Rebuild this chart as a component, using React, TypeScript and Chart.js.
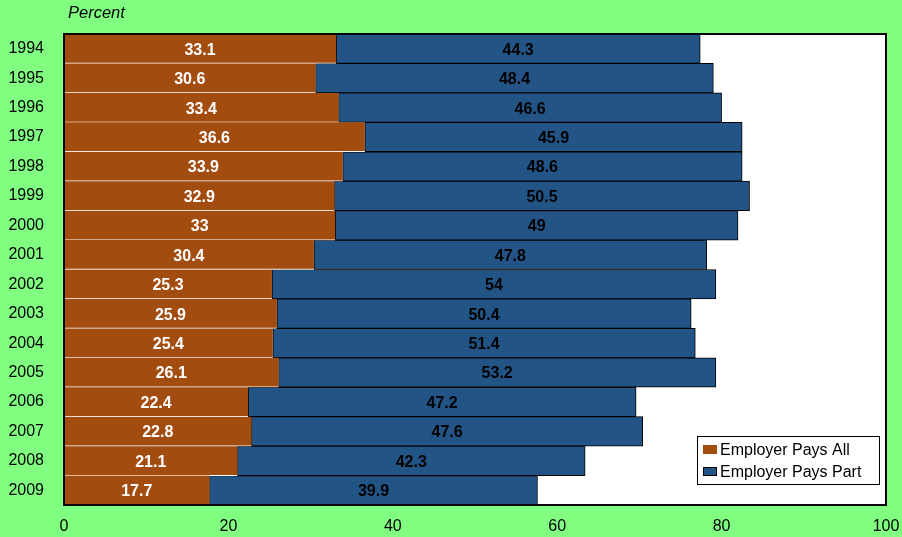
import React, { useEffect, useRef } from "react";
import { Chart, registerables } from "chart.js";

Chart.register(...registerables);

const years = ["1994","1995","1996","1997","1998","1999","2000","2001","2002","2003","2004","2005","2006","2007","2008","2009"];
const paysAll = [33.1,30.6,33.4,36.6,33.9,32.9,33,30.4,25.3,25.9,25.4,26.1,22.4,22.8,21.1,17.7];
const paysPart = [44.3,48.4,46.6,45.9,48.6,50.5,49,47.8,54,50.4,51.4,53.2,47.2,47.6,42.3,39.9];
const seriesNames = ["Employer Pays All", "Employer Pays Part"];
const xTicks = [0, 20, 40, 60, 80, 100];

const BG = "#80FF80";
const BROWN = "#A34C10";
const BLUE = "#235486";
const FONT = "Liberation Sans, Arial, sans-serif";

export default function App() {
  const ref = useRef<HTMLCanvasElement | null>(null);
  useEffect(() => {
    document.body.style.margin = "0";
    const canvas = ref.current!;
    const bgPlugin = {
      id: "bgp",
      beforeDraw(chart: any) {
        const { ctx, chartArea: a } = chart;
        ctx.save();
        ctx.fillStyle = BG;
        ctx.fillRect(0, 0, chart.width, chart.height);
        ctx.fillStyle = "#FFFFFF";
        ctx.fillRect(a.left, a.top, a.right - a.left, a.bottom - a.top);
        ctx.restore();
      },
      afterDatasetsDraw(chart: any) {
        const { ctx, chartArea: a } = chart;
        ctx.save();
        ctx.font = `bold 16px ${FONT}`;
        ctx.textAlign = "center";
        ctx.textBaseline = "middle";
        chart.data.datasets.forEach((ds: any, di: number) => {
          const meta = chart.getDatasetMeta(di);
          meta.data.forEach((bar: any, i: number) => {
            const p = bar.getProps(["x", "y", "base"], true);
            const cx = (p.x + p.base) / 2;
            ctx.fillStyle = di === 0 ? "#FFFFFF" : "#000000";
            ctx.fillText(String(ds.data[i]), cx, p.y + 1.5);
          });
        });
        // frame
        ctx.strokeStyle = "#000";
        ctx.lineWidth = 2;
        ctx.strokeRect(a.left, a.top, a.right - a.left, a.bottom - a.top);
        // title
        ctx.font = `italic 16.5px ${FONT}`;
        ctx.textAlign = "left";
        ctx.fillStyle = "#000";
        ctx.fillText("Percent", 68, 13);
        // legend
        const lx = 697, ly = 436, lw = 182, lh = 48;
        ctx.fillStyle = "#FFF";
        ctx.fillRect(lx, ly, lw, lh);
        ctx.strokeStyle = "#000";
        ctx.lineWidth = 1;
        ctx.strokeRect(lx + 0.5, ly + 0.5, lw, lh);
        const rows = [450, 472];
        const cols = [BROWN, BLUE];
        rows.forEach((ry, k) => {
          ctx.fillStyle = cols[k];
          ctx.fillRect(703, ry - 5, 14, 9);
          if (k === 1) {
            ctx.strokeStyle = "#000";
            ctx.strokeRect(703.5, ry - 4.5, 13, 8);
          }
          ctx.fillStyle = "#000";
          ctx.font = `16px ${FONT}`;
          ctx.fillText(seriesNames[k], 720, ry + 1);
        });
        ctx.restore();
      },
    };
    const chart = new Chart(canvas, {
      type: "bar",
      data: {
        labels: years,
        datasets: [
          {
            label: seriesNames[0],
            data: paysAll,
            backgroundColor: BROWN,
            borderColor: "#FFFFFF",
            borderWidth: { top: 0, right: 0, bottom: 1, left: 0 },
            borderSkipped: false,
            barPercentage: 1,
            categoryPercentage: 1,
          },
          {
            label: seriesNames[1],
            data: paysPart,
            backgroundColor: BLUE,
            borderColor: "#000000",
            borderWidth: 1,
            borderSkipped: false,
            barPercentage: 1,
            categoryPercentage: 1,
          },
        ],
      },
      options: {
        indexAxis: "y",
        animation: false,
        responsive: false,
        layout: { padding: { top: 34, right: 16, left: 0, bottom: 0 } },
        plugins: { legend: { display: false }, tooltip: { enabled: false }, title: { display: false } },
        scales: {
          x: {
            stacked: true,
            min: 0,
            max: 100,
            afterBuildTicks(scale: any) {
              scale.ticks = xTicks.map((v) => ({ value: v }));
            },
            afterFit(scale: any) {
              scale.height = 32;
              scale.paddingRight = 0;
              scale.paddingLeft = 0;
            },
            grid: { display: false, drawTicks: false },
            border: { display: false },
            ticks: { color: "#000", font: { family: FONT, size: 16 }, padding: 12, maxRotation: 0 },
          },
          y: {
            stacked: true,
            afterFit(scale: any) {
              scale.width = 64;
              scale.paddingTop = 0;
              scale.paddingBottom = 0;
            },
            grid: { display: false, drawTicks: false },
            border: { display: false },
            ticks: { color: "#000", font: { family: FONT, size: 16 }, padding: 20 },
          },
        },
      },
      plugins: [bgPlugin],
    });
    return () => chart.destroy();
  }, []);
  return (
    <div style={{ width: 902, height: 537, background: BG }}>
      <canvas ref={ref} width={902} height={537} style={{ display: "block" }} />
    </div>
  );
}
